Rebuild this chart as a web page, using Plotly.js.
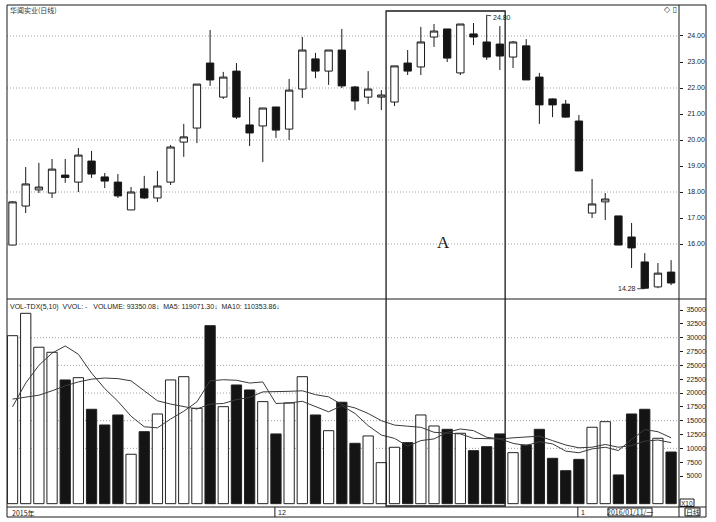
<!DOCTYPE html>
<html><head><meta charset="utf-8">
<script src="https://cdn.plot.ly/plotly-3.0.1.min.js"></script>
<style>html,body{margin:0;padding:0;background:#fff}#chart{width:716px;height:522px}</style>
</head><body><div id="chart"></div>
<script>
// ---- data ----
const openP  = [15.96,17.46,18.08,17.96,18.65,18.38,19.19,18.58,18.38,17.31,18.12,17.77,18.38,19.92,20.46,22.96,21.65,22.65,20.58,20.54,21.27,20.42,21.96,23.12,22.65,23.46,22.04,21.65,21.65,21.46,22.96,22.81,23.96,24.27,22.58,24.08,23.77,23.69,23.19,23.62,22.42,21.58,21.38,20.73,17.19,17.62,17.08,16.27,15.31,14.35,14.92];
const highP  = [17.65,18.96,19.12,19.27,19.27,19.69,19.58,18.73,18.69,18.19,18.62,18.81,19.81,20.62,22.15,24.23,22.62,22.96,21.65,21.23,21.27,22.35,23.96,23.35,23.46,24.27,22.08,22.65,21.92,22.85,23.46,24.35,24.46,24.27,24.46,24.50,24.80,24.38,23.81,23.88,22.58,21.60,21.54,20.96,18.50,17.96,17.08,16.81,15.65,15.27,15.38];
const lowP   = [15.95,17.19,17.96,17.77,18.35,18.00,18.54,18.15,17.77,17.31,17.73,17.62,18.27,19.35,19.88,22.08,21.58,20.81,19.77,19.15,20.08,20.00,21.62,22.38,22.12,22.00,21.15,21.38,21.15,21.31,22.50,22.50,23.58,23.00,22.50,23.65,23.08,22.69,22.77,22.31,20.62,20.88,20.85,18.81,17.00,16.92,15.96,15.08,14.28,14.30,14.42];
const closeP = [17.62,18.31,18.19,18.88,18.56,19.42,18.69,18.42,17.85,18.00,17.77,18.23,19.73,20.12,22.15,22.31,22.42,20.88,20.27,21.23,20.38,21.92,23.46,22.65,23.46,22.08,21.50,21.96,21.73,22.85,22.65,23.77,24.19,23.15,24.46,23.96,23.19,23.23,23.77,22.31,21.35,21.35,20.88,18.81,17.54,17.73,15.96,15.85,14.30,14.88,14.50];
const volume = [30360,34400,28270,27360,22360,22770,17060,14220,16030,8930,13010,16210,22360,22950,17240,32170,17530,21450,20550,18440,12600,18200,22950,16030,13190,18330,10910,12240,7410,10190,11030,16030,14040,13440,12720,9580,10300,12600,9220,10610,13440,8200,5960,8010,13810,14820,5190,16210,17060,11820,9335];
const ma5    = [17500,21800,25000,27200,28500,27000,23600,20800,18500,15800,13900,13700,15300,16700,18400,22200,22400,22300,21800,22000,18100,18200,18500,17600,16600,17700,16300,14100,12400,11800,10400,11400,11700,12900,13500,13200,12000,11700,10900,10500,11200,10800,9500,9200,9900,10200,9600,11600,13400,13000,11907];
const ma10   = [18900,19300,19600,20400,21300,22000,22500,22700,22600,22200,20400,18600,18000,17600,17100,18000,18100,18800,19200,20200,20200,20300,20400,19700,19300,17900,17300,16300,15000,14200,14000,13800,12900,12700,12600,11800,11700,11700,11900,12000,12200,11400,10600,10100,10200,10700,10200,10500,11300,11500,11035];
const priceTicks = [16,17,18,19,20,21,22,23,24];
const priceTickText = ['16.00','17.00','18.00','19.00','20.00','21.00','22.00','23.00','24.00'];
const priceGrid = [16,18,20,22,24];
const volTicks = [5000,7500,10000,12500,15000,17500,20000,22500,25000,27500,30000,32500,35000];
const volTickText = ['5000','7500','10000','12500','15000','17500','20000','22500','25000','27500','30000','32500','35000'];
const volGrid = [10000,15000,20000,25000,30000];
const dateIdx = [20,43];
const dateText = ['12','1'];

const idx = openP.map((_, i) => i);
const barColors = idx.map(i => closeP[i] >= openP[i] ? '#ffffff' : '#141414');

const PT = 5, PB = 517, H = PB - PT;          // plot area pixel rows
const py = y => (PB - y) / H;                  // pixel row -> paper
const font = 'Liberation Sans, Noto Sans CJK SC, sans-serif';
const ink = '#1a1a1a';

const traces = [
  {type:'candlestick', x: idx, open: openP, high: highP, low: lowP, close: closeP,
   xaxis:'x', yaxis:'y', whiskerwidth:0,
   increasing:{line:{color:ink,width:1}, fillcolor:'#ffffff'},
   decreasing:{line:{color:ink,width:1}, fillcolor:'#141414'},
   hoverinfo:'skip'},
  {type:'bar', x: idx, y: volume, xaxis:'x', yaxis:'y2',
   marker:{color: barColors, line:{color:'#222', width:1}}, hoverinfo:'skip'},
  {type:'scatter', mode:'lines', x: idx, y: ma5, xaxis:'x', yaxis:'y2',
   line:{color:'#3a3a3a', width:1}, hoverinfo:'skip'},
  {type:'scatter', mode:'lines', x: idx, y: ma10, xaxis:'x', yaxis:'y2',
   line:{color:'#3a3a3a', width:1}, hoverinfo:'skip'}
];

const gridLine = {color:'#a0a0a0', width:1, dash:'1px,2px'};
const shapes = [];
priceGrid.forEach(v => shapes.push({type:'line', layer:'below', xref:'paper', x0:0, x1:1, yref:'y', y0:v, y1:v, line:gridLine}));
volGrid.forEach(v => shapes.push({type:'line', layer:'below', xref:'paper', x0:0, x1:1, yref:'y2', y0:v, y1:v, line:gridLine}));
const RX = (706 - 7) / 672;
shapes.push({type:'rect', xref:'paper', yref:'paper', x0:0, x1:RX, y0:0, y1:1, line:{color:ink, width:1}});
shapes.push({type:'line', xref:'paper', yref:'paper', x0:1, x1:1, y0:0, y1:1, line:{color:ink, width:1}});
shapes.push({type:'line', xref:'paper', yref:'paper', x0:0, x1:RX, y0:py(299), y1:py(299), line:{color:ink, width:1}});
shapes.push({type:'line', xref:'paper', yref:'paper', x0:0, x1:RX, y0:py(507), y1:py(507), line:{color:ink, width:1}});
// highlighted region A
shapes.push({type:'rect', xref:'x', yref:'paper', x0:28.36, x1:37.40, y0:py(506), y1:py(11), line:{color:ink, width:1.3}});
// date ticks
dateIdx.forEach(d => shapes.push({type:'line', xref:'x', yref:'paper', x0:d-0.08, x1:d-0.08, y0:py(517), y1:py(507), line:{color:ink, width:1}}));
// small boxes in the bottom band
shapes.push({type:'rect', xref:'paper', yref:'paper', x0:(608-7)/672, x1:(652-7)/672, y0:py(516), y1:py(508), line:{color:ink, width:1}});
shapes.push({type:'rect', xref:'paper', yref:'paper', x0:(685-7)/672, x1:(700-7)/672, y0:py(516), y1:py(508), line:{color:ink, width:1}});
shapes.push({type:'rect', xref:'paper', yref:'paper', x0:(680-7)/672, x1:(694-7)/672, y0:py(506.5), y1:py(499), line:{color:ink, width:1}});

const ann = [];
const small = {family: font, size: 7, color: ink};
ann.push({xref:'paper', yref:'paper', x:(8-7)/672, y:py(9.5), xanchor:'left', yanchor:'middle', showarrow:false, text:'华闻实业(日线)', font:{family:'Noto Sans CJK SC, sans-serif', size:7, color:'#333'}});
ann.push({xref:'paper', yref:'paper', x:(662-7)/672, y:py(9.5), xanchor:'left', yanchor:'middle', showarrow:false, text:'◇ ▯', font:{family:'DejaVu Sans', size:8, color:'#333'}});
ann.push({xref:'paper', yref:'paper', x:0.001, y:py(306.5), xanchor:'left', yanchor:'middle', showarrow:false,
  text:'VOL-TDX(5,10)  VVOL: -   VOLUME: 93350.08↓  MA5: 119071.30↓  MA10: 110353.86↓', font:small});
ann.push({xref:'x', yref:'y', x:36, y:24.80, text:'24.80', showarrow:true, arrowhead:0, arrowwidth:0.8, arrowcolor:ink, ax:15, ay:2, standoff:0, font:small});
ann.push({xref:'x', yref:'y', x:48, y:14.28, text:'14.28', showarrow:true, arrowhead:0, arrowwidth:0.8, arrowcolor:ink, ax:-18, ay:0, standoff:0, font:small});
ann.push({xref:'x', yref:'y', x:32.69, y:16.04, text:'A', showarrow:false, font:{family:'Liberation Serif, serif', size:17, color:ink}});
ann.push({xref:'paper', yref:'paper', x:(10-7)/672, y:py(512.5), xanchor:'left', yanchor:'middle', showarrow:false, text:'2015年', font:{family:'Noto Sans CJK SC, sans-serif', size:7, color:ink}});
dateIdx.forEach((d, k) => ann.push({xref:'x', yref:'paper', x:d, y:py(512.5), xanchor:'left', yanchor:'middle', showarrow:false, text:dateText[k], font:small}));
ann.push({xref:'paper', yref:'paper', x:(630-7)/672, y:py(512.3), xanchor:'center', yanchor:'middle', showarrow:false, text:'2016/01/11/一', font:{family:'Noto Sans CJK SC, sans-serif', size:7, color:ink}});
ann.push({xref:'paper', yref:'paper', x:(692.5-7)/672, y:py(512.3), xanchor:'center', yanchor:'middle', showarrow:false, text:'日线', font:{family:'Noto Sans CJK SC, sans-serif', size:7, color:ink}});
ann.push({xref:'paper', yref:'paper', x:(687-7)/672, y:py(503), xanchor:'center', yanchor:'middle', showarrow:false, text:'X10', font:{family:font, size:6.5, color:ink}});

const layout = {
  width:716, height:522,
  margin:{l:7, r:37, t:PT, b:522-PB, pad:0},
  paper_bgcolor:'#ffffff', plot_bgcolor:'#ffffff',
  showlegend:false, hovermode:false,
  boxgap:0.2, bargap:0.22,
  xaxis:{range:[-0.42, 50.6], showticklabels:false, showgrid:false, zeroline:false, ticks:'', anchor:'y2', rangeslider:{visible:false}, fixedrange:true},
  yaxis:{domain:[py(299), 1], range:[13.885, 25.192], side:'right', tickmode:'array', tickvals:priceTicks, ticktext:priceTickText,
         ticks:'outside', ticklen:3, tickcolor:ink, showgrid:false, zeroline:false, showline:false, tickfont:small, ticklabelstandoff:3},
  yaxis2:{domain:[py(507), py(299)], range:[-602, 36988], side:'right', tickmode:'array', tickvals:volTicks, ticktext:volTickText,
         ticks:'outside', ticklen:3, tickcolor:ink, showgrid:false, zeroline:false, showline:false, tickfont:small, ticklabelstandoff:2},
  shapes: shapes, annotations: ann,
  font:{family:font, size:7, color:ink}
};
Plotly.newPlot('chart', traces, layout, {staticPlot:true, displayModeBar:false});
</script></body></html>
